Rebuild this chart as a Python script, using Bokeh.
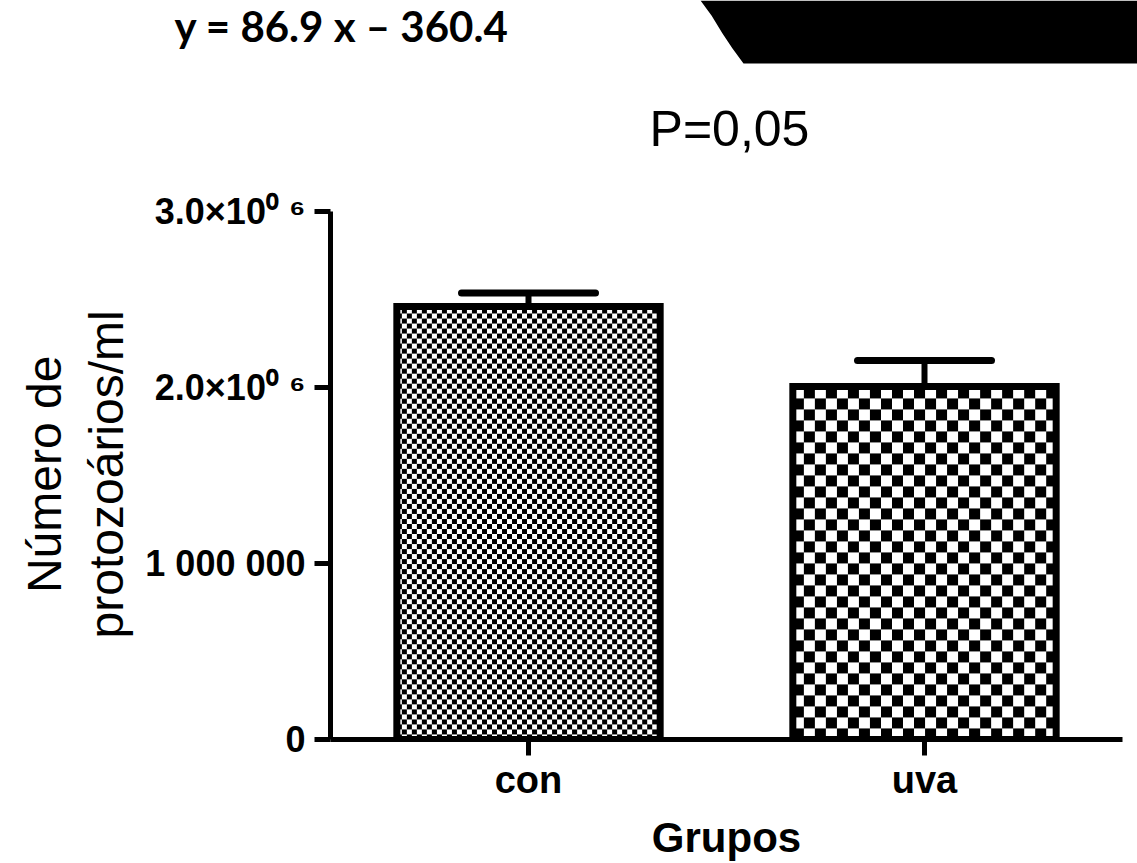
import math
import numpy as np
from bokeh.plotting import figure
from bokeh.layouts import column, row
from bokeh.models import ColumnDataSource, Range1d, FixedTicker, Whisker, TeeHead
from bokeh.core.properties import value
from bokeh.embed import file_html
from bokeh.resources import INLINE

# ---------------- data ----------------
categories = ["con", "uva"]
means = [2.46e6, 2.006e6]
errors = [0.077e6, 0.147e6]
y_ticks = [0, 1000000, 2000000, 3000000]
y_tick_labels = ["0", "1 000 000", "2.0×10⁰ ⁶", "3.0×10⁰ ⁶"]
title_text = "P=0,05"
equation_text = "y = 86.9 x – 360.4"
y_label_lines = ["Número de", "protozoários/ml"]
x_label = "Grupos"

# ---------------- layout / styles ----------------
CHECKER_CELL = [5, 11]   # checker square size (px) for each bar
BAR_WIDTH = 0.665
PAGE_W, PAGE_H = 1137, 863
TOP_H = 170          # height of the strip above the chart
LEFT_W = 140         # width of the strip holding the y label
FRAME_L, FRAME_R, FRAME_T, FRAME_B = 330, 1122, 211, 739  # page px
MAIN_W = PAGE_W - LEFT_W
MAIN_H = PAGE_H - TOP_H
Y_MAX = y_ticks[-1]
X_MAX = len(categories)
PX_PER_X = (FRAME_R - FRAME_L) / X_MAX
PX_PER_Y = (FRAME_B - FRAME_T) / Y_MAX


def bare(fig):
    fig.outline_line_color = None
    fig.background_fill_color = "white"
    fig.border_fill_color = "white"
    fig.min_border = 0
    return fig


# ---- top strip: equation, P value, black corner shape ----
top = bare(figure(width=PAGE_W, height=TOP_H, output_backend="svg", toolbar_location=None,
                  x_range=Range1d(0, PAGE_W), y_range=Range1d(TOP_H, 0),
                  x_axis_type=None, y_axis_type=None))
shape_x = [700, 711, 722, 732, 743, 1137, 1137]
shape_y = [0, 15, 33, 48, 63, 63, 0]
top.patch(shape_x, shape_y, fill_color="black", line_color=None)
top.text(x=[174], y=[25], text=[equation_text], text_align="left",
         text_baseline="alphabetic", text_font=value("Lato"), text_font_style="bold",
         text_font_size="42px", text_color="black")
top.text(x=[729], y=[128], text=[title_text], text_align="center",
         text_baseline="alphabetic", text_font=value("Liberation Sans"),
         text_font_size="50px", text_color="black")

# ---- left strip: y axis label ----
left = bare(figure(width=LEFT_W, height=MAIN_H, output_backend="svg", toolbar_location=None,
                   x_range=Range1d(0, LEFT_W), y_range=Range1d(MAIN_H, 0),
                   x_axis_type=None, y_axis_type=None))
left.text(x=[44, 106], y=[515 - TOP_H] * 2, text=y_label_lines, angle=math.pi / 2,
          text_align="center", text_baseline="alphabetic",
          text_font=value("Liberation Sans"), text_font_size="48px", text_color="black")

# ---- main chart ----
xs = [i + 0.5 for i in range(len(categories))]
src = ColumnDataSource(dict(x=xs, mean=means, upper=[m + e for m, e in zip(means, errors)]))

p = figure(width=MAIN_W, height=MAIN_H, output_backend="svg", toolbar_location=None,
           x_range=Range1d(0, X_MAX), y_range=Range1d(0, Y_MAX),
           min_border_left=FRAME_L - LEFT_W, min_border_right=PAGE_W - FRAME_R,
           min_border_top=FRAME_T - TOP_H, min_border_bottom=PAGE_H - FRAME_B)
p.outline_line_color = None
p.xgrid.visible = False
p.ygrid.visible = False
p.background_fill_color = "white"
p.border_fill_color = "white"


def checker_image(w_px, h_px, cell):
    nx, ny = int(round(w_px)), int(round(h_px))
    jj, ii = np.meshgrid(np.arange(nx), np.arange(ny))
    black = ((jj // cell) + (ii // cell)) % 2 == 0
    img = np.where(black, np.uint32(0xFF000000), np.uint32(0xFFFFFFFF)).astype(np.uint32)
    return img


# checker fills of the bars, sized from the data through the chart scale
for i in range(len(categories)):
    img = checker_image(BAR_WIDTH * PX_PER_X, means[i] * PX_PER_Y, CHECKER_CELL[i])
    p.image_rgba(image=[img], x=xs[i] - BAR_WIDTH / 2, y=0, dw=BAR_WIDTH, dh=means[i])

p.vbar(x="x", top="mean", bottom=0, width=BAR_WIDTH, source=src,
       fill_color=None, line_color="black", line_width=7, line_join="miter")

wh = Whisker(source=src, base="x", lower="mean", upper="upper",
             line_width=6, line_color="black",
             upper_head=TeeHead(size=134, line_width=7, line_color="black", line_cap="round"),
             lower_head=None)
p.add_layout(wh)

for ax in (p.xaxis[0], p.yaxis[0]):
    ax.axis_line_width = 5
    ax.axis_line_color = "black"
    ax.major_tick_line_width = 5
    ax.major_tick_line_color = "black"
    ax.major_tick_in = 0
    ax.major_tick_out = 16
    ax.minor_tick_line_color = None
    ax.major_label_text_font = "Liberation Sans"
    ax.major_label_text_font_style = "bold"
    ax.major_label_text_color = "black"

p.yaxis[0].ticker = FixedTicker(ticks=y_ticks)
p.yaxis[0].major_label_overrides = {t: l for t, l in zip(y_ticks, y_tick_labels)}
p.yaxis[0].major_label_text_font_size = "36px"
p.yaxis[0].major_label_standoff = 9

p.xaxis[0].ticker = FixedTicker(ticks=xs)
p.xaxis[0].major_label_overrides = {x: c for x, c in zip(xs, categories)}
p.xaxis[0].major_label_text_font_size = "38px"
p.xaxis[0].major_label_standoff = 3
p.xaxis[0].axis_label = x_label
p.xaxis[0].axis_label_text_font = "Liberation Sans"
p.xaxis[0].axis_label_text_font_style = "bold"
p.xaxis[0].axis_label_text_font_size = "42px"
p.xaxis[0].axis_label_text_color = "black"
p.xaxis[0].axis_label_standoff = 10

layout = column(top, row(left, p))
open("out.html", "w").write(file_html(layout, INLINE))
